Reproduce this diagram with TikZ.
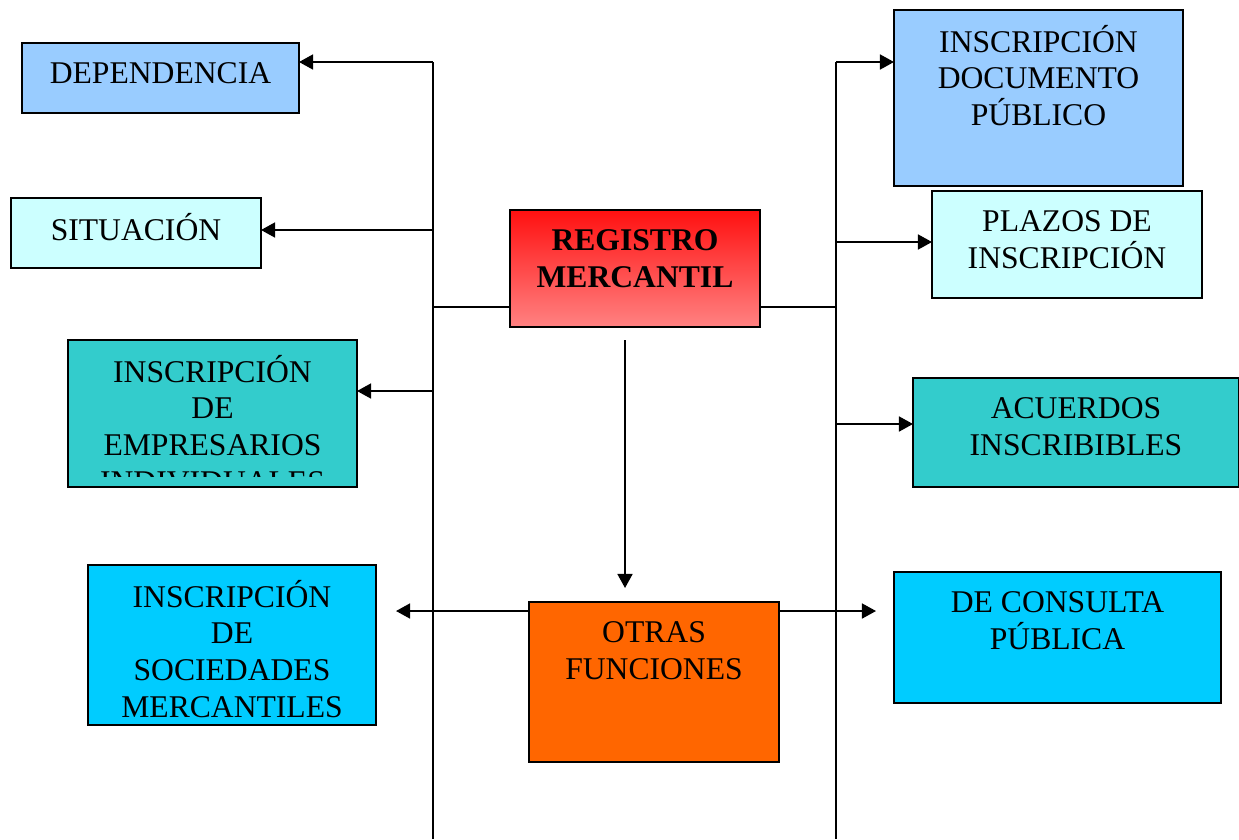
\documentclass[tikz,border=0pt]{standalone}
\usepackage{fontspec}
\setmainfont{Liberation Serif}
\usepackage{tikz}
\usetikzlibrary{calc,positioning,arrows.meta}
\usepackage{xcolor}
\definecolor{azulclaro}{HTML}{99CCFF}
\definecolor{celeste}{HTML}{CCFFFF}
\definecolor{turquesa}{HTML}{33CCCC}
\definecolor{cielo}{HTML}{00CCFF}
\definecolor{naranja}{HTML}{FF6600}
\definecolor{rojoalto}{HTML}{FF1010}
\definecolor{rojobajo}{HTML}{FF8282}
\newcommand{\letracaja}{\fontsize{18}{21}\selectfont\setlength{\lineskiplimit}{-30pt}}
\tikzset{
  caja/.style 2 args={
    draw,
    rectangle,
    anchor=north west,
    inner sep=0pt,
    outer sep=0pt,
    minimum width=#1*0.02cm,
    minimum height=#2*0.02cm,
    line width=1.1pt,
  },
  texto/.style={
    anchor=north,
    inner sep=0pt,
    align=center,
    yshift=-8.3pt,
    font=\letracaja,
  },
  linea/.style={line width=1.1pt},
  flecha/.style={line width=1.1pt, -{Triangle[length=8pt, width=8.5pt]}},
}
\begin{document}
\begin{tikzpicture}[x=0.02cm, y=-0.02cm]
  \useasboundingbox (0,0) rectangle (1239,839);
  \node[caja={277}{70}, fill=azulclaro] (dep) at (22,43) {};
  \node[caja={250}{70}, fill=celeste] (sit) at (11,198) {};
  \node[caja={289}{147}, fill=turquesa] (emp) at (68,340) {};
  \node[caja={288}{160}, fill=cielo] (soc) at (88,565) {};
  \node[caja={250}{117}, top color=rojoalto, bottom color=rojobajo] (reg) at (510,210) {};
  \node[caja={250}{160}, fill=naranja] (otr) at (529,602) {};
  \node[caja={289}{176}, fill=azulclaro] (doc) at (894,10) {};
  \node[caja={270}{107}, fill=celeste] (pla) at (932,191) {};
  \node[caja={326}{109}, fill=turquesa] (acu) at (913,378) {};
  \node[caja={327}{131}, fill=cielo] (con) at (894,572) {};
  \node[texto] (depT) at (dep.north) {\strut DEPENDENCIA};
  \node[texto] (sitT) at (sit.north) {\strut SITUACIÓN};
  \begin{scope}
    \clip (68,340) rectangle (357,476);
    \node[texto] (empT) at (emp.north) {\strut INSCRIPCIÓN\\DE\\EMPRESARIOS\\INDIVIDUALES};
  \end{scope}
  \node[texto] (socT) at (soc.north) {\strut INSCRIPCIÓN\\DE\\SOCIEDADES\\MERCANTILES};
  \node[texto, font=\letracaja\bfseries] (regT) at (reg.north) {\strut REGISTRO\\MERCANTIL};
  \node[texto] (otrT) at (otr.north) {\strut OTRAS\\FUNCIONES};
  \node[texto] (docT) at (doc.north) {\strut INSCRIPCIÓN\\DOCUMENTO\\PÚBLICO};
  \node[texto] (plaT) at (pla.north) {\strut PLAZOS DE\\INSCRIPCIÓN};
  \node[texto] (acuT) at (acu.north) {\strut ACUERDOS\\INSCRIBIBLES};
  \node[texto] (conT) at (con.north) {\strut DE CONSULTA\\PÚBLICA};
  \coordinate (izqA) at (433,62);
  \coordinate (izqB) at (433,839);
  \coordinate (izq1) at (433,230);
  \coordinate (izq2) at (433,307);
  \coordinate (izq3) at (433,391);
  \coordinate (derA) at (836,62);
  \coordinate (derB) at (836,839);
  \coordinate (der1) at (836,242);
  \coordinate (der2) at (836,307);
  \coordinate (der3) at (836,424);
  \coordinate (bajA) at (625,340);
  \coordinate (bajB) at (625,588);
  \coordinate (salI) at (396,611);
  \coordinate (salD) at (876,611);
  \draw[linea] (izqA) -- (izqB);
  \draw[linea] (derA) -- (derB);
  \draw[flecha] (izqA) -- (dep.east |- izqA);
  \draw[flecha] (izq1) -- (sit.east |- izq1);
  \draw[linea] (izq2) -- (reg.west |- izq2);
  \draw[flecha] (izq3) -- (emp.east |- izq3);
  \draw[flecha] (derA) -- (doc.west |- derA);
  \draw[flecha] (der1) -- (pla.west |- der1);
  \draw[linea] (reg.east |- der2) -- (der2);
  \draw[flecha] (der3) -- (acu.west |- der3);
  \draw[flecha] (bajA) -- (bajB);
  \draw[flecha] (otr.west |- salI) -- (salI);
  \draw[flecha] (otr.east |- salD) -- (salD);
\end{tikzpicture}
\end{document}
